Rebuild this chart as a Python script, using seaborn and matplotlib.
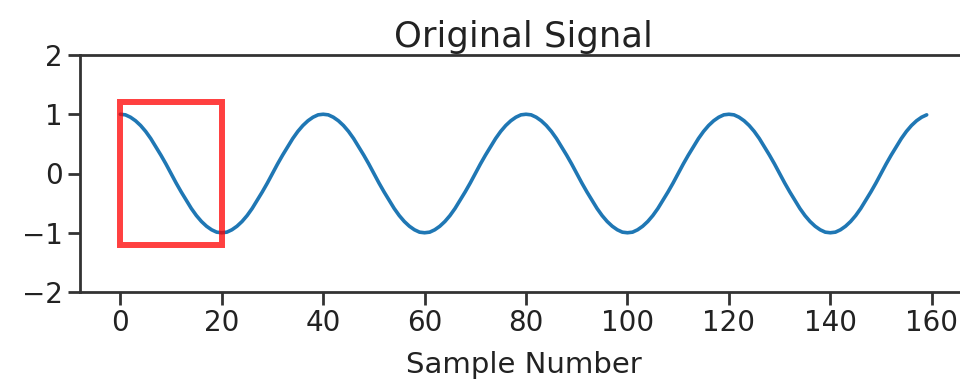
import matplotlib
matplotlib.use("Agg")
import matplotlib.pyplot as plt
import matplotlib.patches as patches
import seaborn as sns
import pandas as pd

# Signal values (cosine-like wave, period of 40 samples)
signal = [
    1.00, 0.99, 0.95, 0.89, 0.81, 0.71, 0.59, 0.45, 0.31, 0.16,
    0.00, -0.16, -0.31, -0.45, -0.59, -0.71, -0.81, -0.89, -0.95, -0.99,
    -1.00, -0.99, -0.95, -0.89, -0.81, -0.71, -0.59, -0.45, -0.31, -0.16,
    0.00, 0.16, 0.31, 0.45, 0.59, 0.71, 0.81, 0.89, 0.95, 0.99,
    1.00, 0.99, 0.95, 0.89, 0.81, 0.71, 0.59, 0.45, 0.31, 0.16,
    0.00, -0.16, -0.31, -0.45, -0.59, -0.71, -0.81, -0.89, -0.95, -0.99,
    -1.00, -0.99, -0.95, -0.89, -0.81, -0.71, -0.59, -0.45, -0.31, -0.16,
    0.00, 0.16, 0.31, 0.45, 0.59, 0.71, 0.81, 0.89, 0.95, 0.99,
    1.00, 0.99, 0.95, 0.89, 0.81, 0.71, 0.59, 0.45, 0.31, 0.16,
    0.00, -0.16, -0.31, -0.45, -0.59, -0.71, -0.81, -0.89, -0.95, -0.99,
    -1.00, -0.99, -0.95, -0.89, -0.81, -0.71, -0.59, -0.45, -0.31, -0.16,
    0.00, 0.16, 0.31, 0.45, 0.59, 0.71, 0.81, 0.89, 0.95, 0.99,
    1.00, 0.99, 0.95, 0.89, 0.81, 0.71, 0.59, 0.45, 0.31, 0.16,
    0.00, -0.16, -0.31, -0.45, -0.59, -0.71, -0.81, -0.89, -0.95, -0.99,
    -1.00, -0.99, -0.95, -0.89, -0.81, -0.71, -0.59, -0.45, -0.31, -0.16,
    0.00, 0.16, 0.31, 0.45, 0.59, 0.71, 0.81, 0.89, 0.95, 0.99,
]
sample_number = list(range(len(signal)))

highlight_x = [0, 20]
highlight_y = [-1.2, 1.2]

x_ticks = [0, 20, 40, 60, 80, 100, 120, 140, 160]
y_ticks = [-2, -1, 0, 1, 2]

df = pd.DataFrame({"Sample Number": sample_number, "Signal": signal})

sns.set_style("ticks")
plt.rcParams["font.family"] = ["DejaVu Sans"]

fig = plt.figure(figsize=(9.6, 3.84), dpi=100)
ax = fig.add_axes([80 / 960, (384 - 292) / 384, (967 - 80) / 960, 237 / 384])

sns.lineplot(data=df, x="Sample Number", y="Signal", ax=ax,
             color="#1f77b4", linewidth=2.6)

rect = patches.Rectangle((highlight_x[0], highlight_y[0]),
                         highlight_x[1] - highlight_x[0],
                         highlight_y[1] - highlight_y[0],
                         fill=False, edgecolor="red", alpha=0.75,
                         linewidth=4.3, zorder=3)
ax.add_patch(rect)

ax.set_ylim(-2, 2)
ax.set_xlim(-7.95, 166.95)
ax.set_xticks(x_ticks)
ax.set_yticks(y_ticks)
ax.set_xlabel("Sample Number", fontsize=21, color="#222222", labelpad=10)
ax.set_ylabel("")
ax.set_title("Original Signal", fontsize=25.5, color="#222222", pad=6)
ax.tick_params(axis="both", labelsize=20, length=9, width=2,
               color="#333333", labelcolor="#222222")
for s in ax.spines.values():
    s.set_linewidth(2)
    s.set_color("#333333")

fig.savefig("out.png", dpi=100)
